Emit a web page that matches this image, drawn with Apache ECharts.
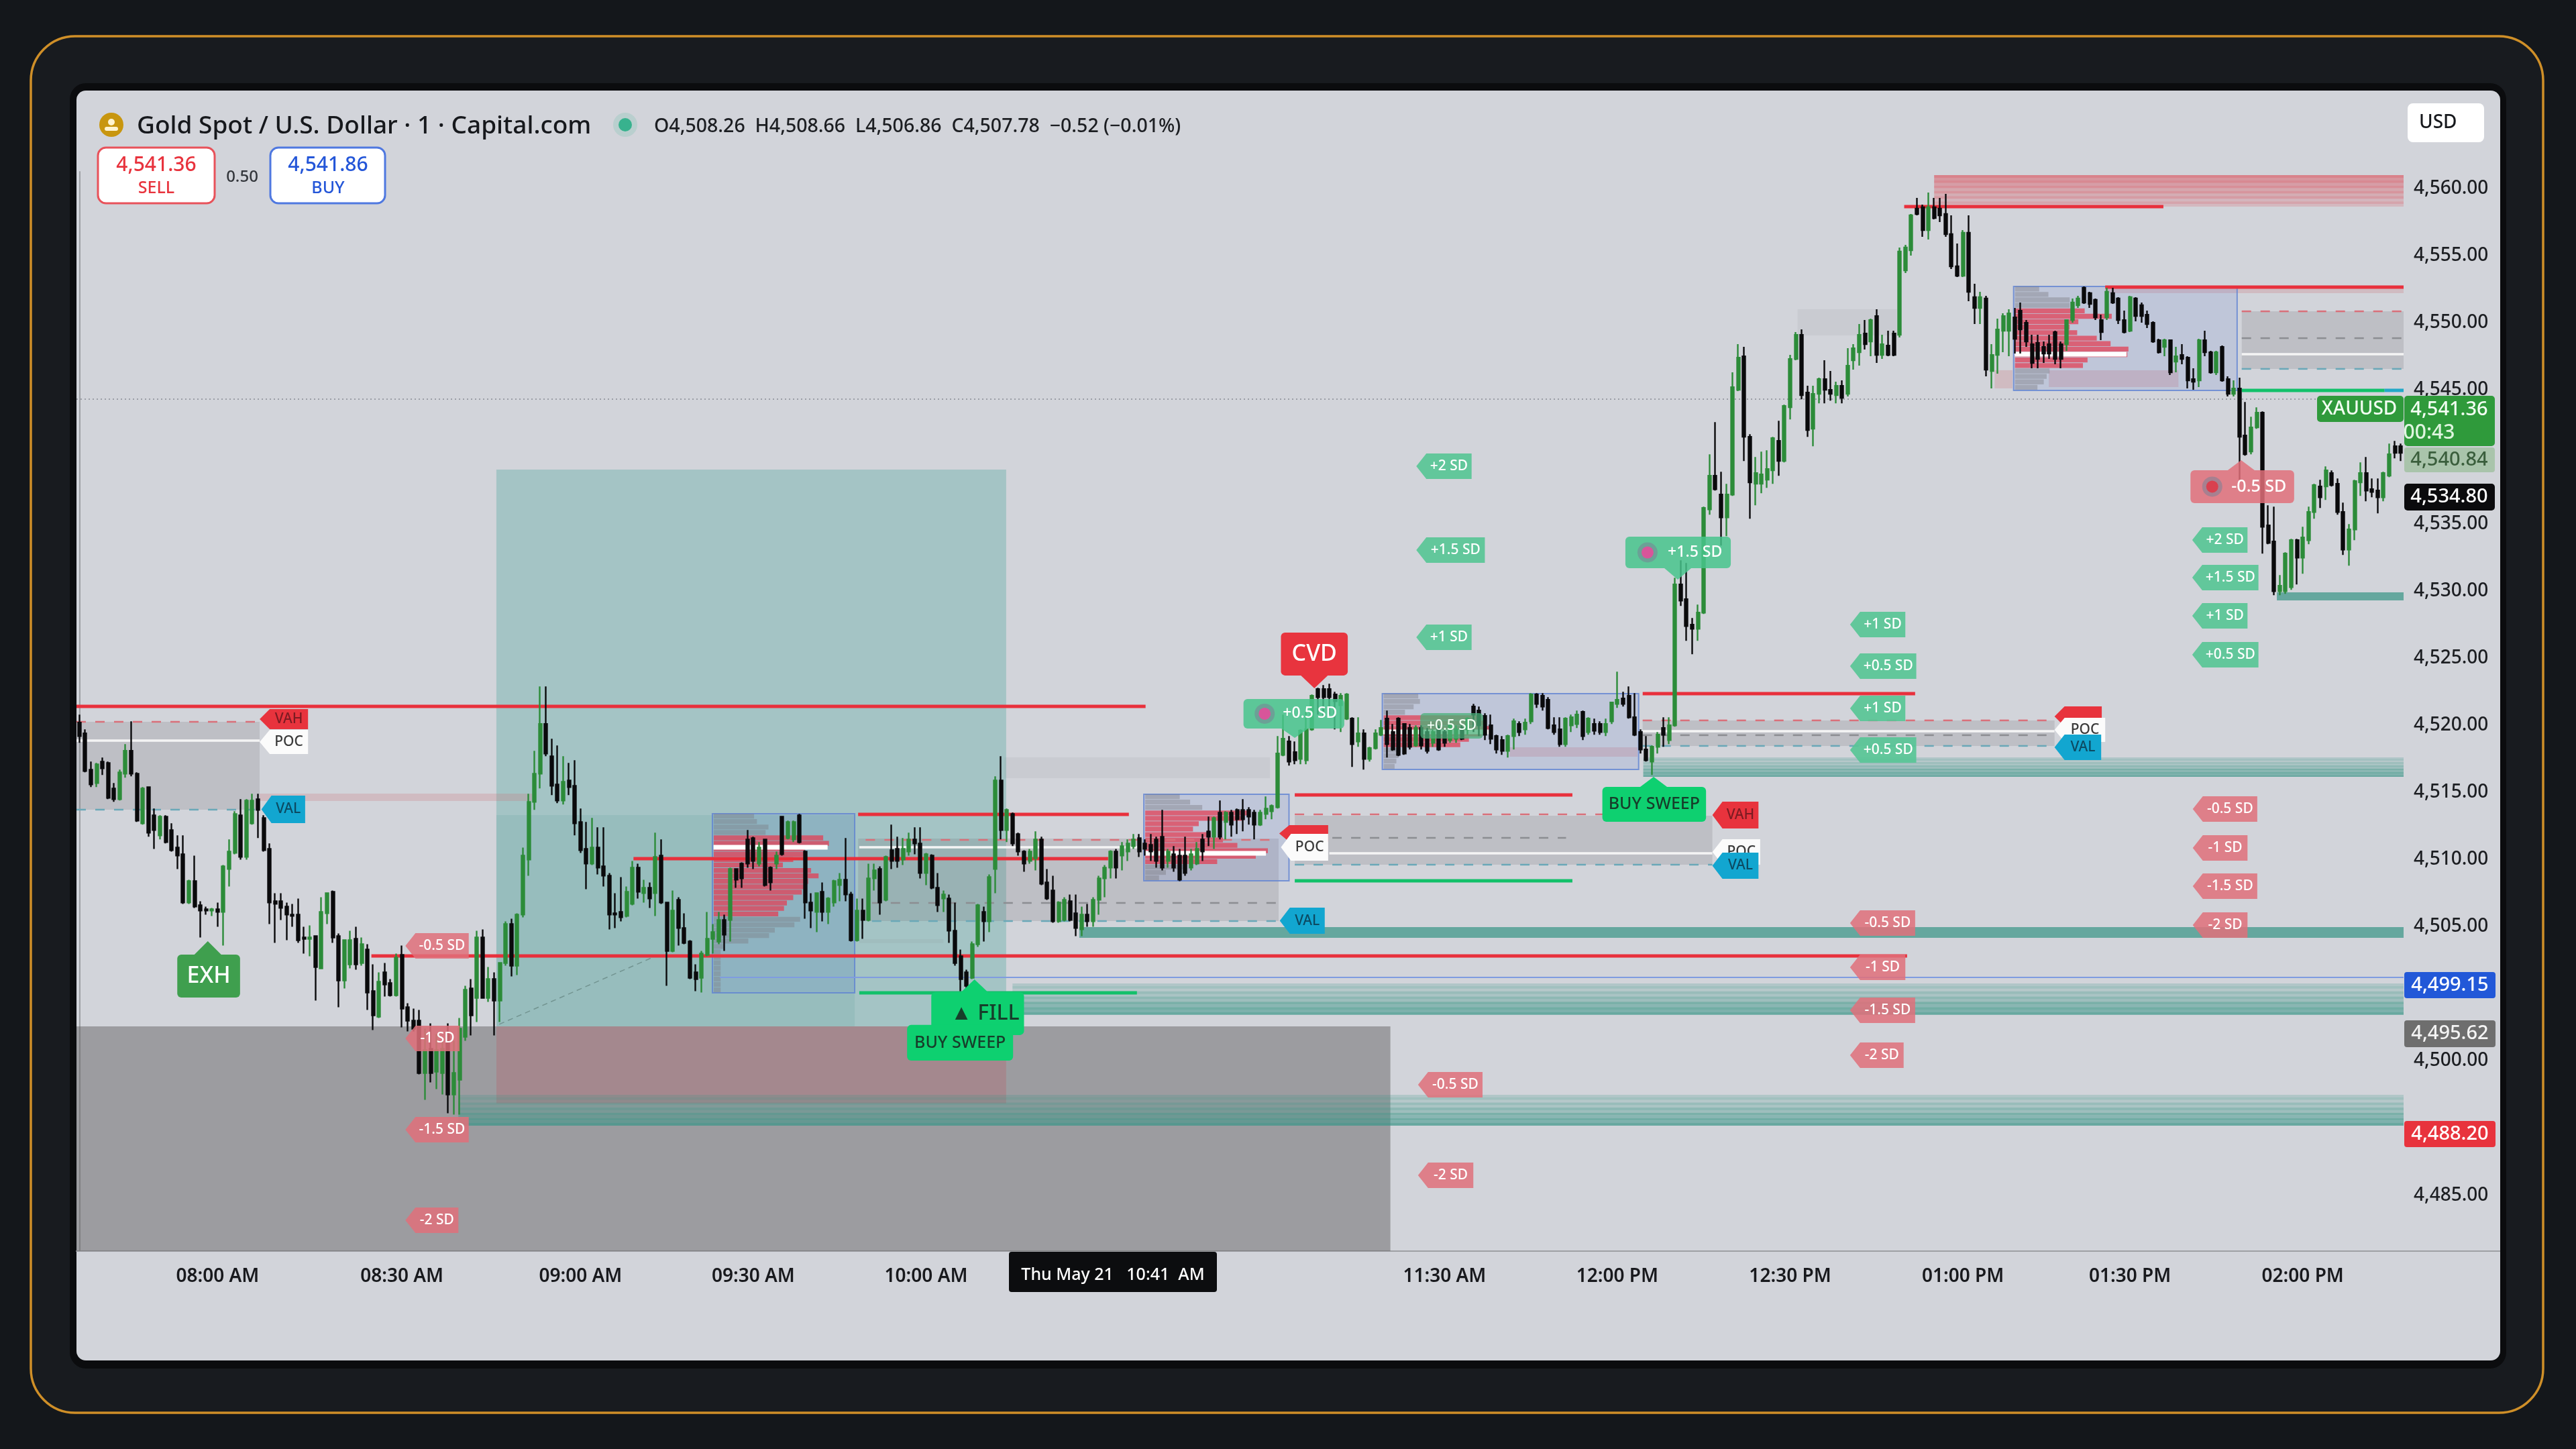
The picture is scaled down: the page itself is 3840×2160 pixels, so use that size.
<!DOCTYPE html>
<html>
<head>
<meta charset="utf-8">
<title>XAUUSD 1m</title>
<style>
html, body { margin: 0; padding: 0; background: #14171b; }
#main { width: 3840px; height: 2160px; }
</style>
<script src="https://cdn.jsdelivr.net/npm/echarts@6/dist/echarts.min.js"></script>
</head>
<body>
<div id="main"></div>
<script>
/* one minute candles: open, close, low, high */
var ohlc = [
[4520.2,4519.2,4518.7,4520.8],[4519.4,4516.6,4516.5,4519.7],[4516.7,4515.6,4515.4,4517.3],[4515.7,4517.1,4515.4,4517.2],[4517.3,4516.8,4516.3,4517.6],
[4517.2,4514.6,4514.5,4517.3],[4515.3,4514.5,4514.3,4515.7],[4514.5,4516.5,4514.4,4516.7],[4516.4,4518.1,4516.1,4518.6],[4518.1,4516.4,4516.2,4520.3],
[4516.4,4512.9,4512.8,4516.5],[4512.7,4515.3,4512.6,4515.4],[4515.4,4512,4511.7,4515.4],[4513.3,4512.2,4510.8,4513.8],[4511.8,4513.2,4511.5,4513.3],
[4513.2,4511.3,4511.2,4513.3],[4512.2,4510.7,4510.6,4512.7],[4510.9,4510.3,4509.3,4511.8],[4510.4,4506.8,4506.7,4511.8],[4506.8,4508.4,4506.7,4508.5],
[4508.4,4506.5,4506.4,4510.3],[4506.6,4506.2,4504.2,4506.9],[4506.3,4506.2,4505.9,4506.5],[4506.2,4506.3,4505.8,4506.4],[4506.3,4506.1,4505,4506.8],
[4506.1,4509.5,4503.6,4509.6],[4509.3,4510.6,4508,4511.5],[4510.5,4513.4,4510.4,4513.6],[4513.3,4510.2,4510,4514.5],[4510.2,4514.4,4510,4514.5],
[4512.7,4514.4,4512.6,4514.9],[4514.5,4513.7,4511.6,4514.9],[4513.1,4510.7,4510.6,4513.3],[4510.8,4506.8,4505.2,4511.2],[4506.9,4506.7,4503.8,4507.5],
[4506.9,4506.4,4505.5,4507.5],[4506.5,4505.9,4504,4506.8],[4505.9,4505.8,4505,4506.7],[4505.9,4504,4503.8,4507.1],[4504.2,4504.1,4503,4505],
[4504.1,4504.2,4502.8,4505.1],[4504.3,4502,4499.5,4504.3],[4501.9,4506.1,4501.9,4507.2],[4506,4507.5,4505.2,4507.5],[4507.6,4504.2,4503.8,4507.7],
[4504.3,4501,4499,4504.5],[4501,4504,4500.4,4504],[4502.2,4504,4501.9,4504.7],[4504.1,4502.2,4501.8,4505],[4502.3,4503.7,4502.1,4504.2],
[4503.3,4500.1,4498.8,4503.7],[4500.2,4498.4,4497.3,4502.2],[4498.3,4500.9,4498.2,4501.6],[4501.6,4500.7,4499.8,4502.3],[4500.8,4499.9,4499.8,4501.1],
[4499.9,4502.7,4499.8,4503],[4502.9,4498.9,4497.5,4503.6],[4499,4498,4497.2,4499.3],[4498,4497.4,4497.2,4498.9],[4498,4494.1,4494,4498.8],
[4494.1,4495.8,4492.1,4497.4],[4495.9,4494.1,4493.4,4497.8],[4494.2,4495.8,4492.9,4497],[4494.1,4495.9,4492.5,4496.5],[4497,4492.5,4491.1,4497.8],
[4492.5,4494.1,4491,4496.5],[4493.6,4497.4,4491,4498.2],[4496.8,4500.3,4496.5,4500.6],[4500.4,4498.4,4496.9,4501.1],[4499.7,4504.2,4497.9,4504.7],
[4504.2,4499.7,4499.7,4504.8],[4499.7,4501.1,4499.4,4502],[4501.1,4499.5,4496.9,4501.6],[4499.5,4502.3,4497.9,4502.3],[4502.3,4505.2,4502.1,4505.4],
[4505.2,4502.1,4501.3,4505.6],[4502.1,4505.9,4501.4,4506],[4505.9,4510.3,4505.7,4510.9],[4510,4514.3,4508.8,4514.9],[4514.3,4516.4,4513.7,4518.1],
[4516.4,4520.1,4515.3,4522.9],[4520.1,4517.9,4517.7,4522.9],[4517.7,4515.5,4514.8,4519],[4515.6,4514.4,4514.2,4518.5],[4514.4,4515.8,4514.1,4517.7],
[4515.9,4515.4,4514.8,4517.2],[4515.5,4512.7,4511.8,4517.4],[4512.8,4510.7,4510.5,4513.8],[4510.8,4509.7,4507.8,4512.8],[4509.7,4510.9,4509.6,4513.1],
[4510.9,4509.4,4508.9,4512.4],[4509.5,4508.8,4508,4512.4],[4508.8,4505.9,4504.8,4509],[4506,4505.9,4504.9,4507.5],[4506.1,4505.7,4505.4,4508.7],
[4505.8,4507.6,4505.7,4508],[4506.7,4509.4,4506.6,4509.9],[4509.4,4507.6,4507.1,4509.7],[4507.5,4507.9,4506.8,4508.5],[4507.9,4507.1,4506.4,4508.3],
[4507.5,4510.2,4505.8,4512],[4510.3,4506.8,4506.7,4511.5],[4506.8,4503.2,4500.6,4506.8],[4503.2,4506.2,4503.1,4507.7],[4507,4504.9,4503.6,4507.2],
[4504.9,4503.8,4503.7,4506],[4503.9,4501.2,4501.1,4504],[4501.6,4501.1,4500.2,4502.2],[4501.2,4503,4500.1,4503.2],[4502.9,4504.1,4502.8,4506.1],
[4504.1,4504.6,4503,4505.2],[4503.9,4505.5,4503.7,4506.1],[4505.5,4504.4,4503.2,4505.9],[4505.5,4509.3,4503.9,4509.4],[4509.3,4508.5,4507.9,4509.3],
[4509.7,4508.6,4507.9,4509.8],[4511.5,4509.7,4509.4,4512.2],[4511.6,4509.9,4509.3,4511.7],[4509.7,4510.9,4509.5,4511.3],[4511.5,4508.1,4508,4511.5],
[4509.4,4508.3,4507.7,4509.5],[4509.7,4510.3,4509.3,4510.6],[4513.2,4510.4,4510.3,4513.2],[4511.6,4512.8,4511.5,4512.9],[4511.5,4512.8,4511.3,4512.9],
[4513.3,4511.3,4511.2,4513.4],[4510.6,4506.8,4505.6,4510.7],[4506.8,4506.2,4504.9,4507.5],[4506.1,4507.5,4504.6,4507.5],[4507.6,4506.1,4505.4,4508.3],
[4506.1,4507.1,4505.2,4507.2],[4506.8,4508.4,4506.5,4508.5],[4508.1,4508.5,4506.9,4509],[4508.5,4507.4,4506.9,4511.6],[4507.4,4504,4503.9,4507.6],
[4504,4506.2,4503.9,4507.1],[4506.2,4505.5,4504.1,4507.1],[4505.5,4508.6,4505.4,4509.7],[4508.6,4509.2,4507.7,4509.7],[4509.3,4506.8,4505.9,4509.5],
[4507,4510.2,4506.9,4510.3],[4510.7,4509.9,4509.3,4512.6],[4510.8,4509.9,4509.4,4511.7],[4510,4510.8,4509.6,4511.6],[4510.6,4511.5,4510.3,4512],
[4511.5,4511.2,4510.4,4512.4],[4511.2,4509,4508.6,4512.4],[4509,4510.4,4508.1,4510.5],[4510.3,4507.9,4507.8,4510.4],[4507.9,4506.6,4506.1,4509],
[4507.1,4507.4,4506.1,4507.7],[4507.1,4504.7,4503.8,4507.4],[4504.7,4502.3,4502.1,4506.8],[4502.8,4501.1,4500.2,4503.3],[4501.6,4500.6,4500.3,4501.8],
[4501.2,4503.7,4501.1,4503.9],[4503.7,4506.6,4503.5,4506.7],[4506.1,4505.4,4503.9,4506.5],[4505.4,4508.7,4504.6,4508.9],[4509.3,4515.9,4507.5,4516.2],
[4515.9,4512.2,4511.5,4517.7],[4512.2,4513.7,4511.3,4513.8],[4513.4,4511.2,4511,4513.5],[4511.9,4510.6,4510.3,4512],[4510.6,4509.7,4509.1,4510.7],
[4509.9,4510.6,4509.7,4510.8],[4510.1,4511.5,4509.2,4512.1],[4511.5,4508.2,4508.1,4511.7],[4508.3,4507.1,4507,4509.3],[4507.7,4505.4,4505.3,4508.8],
[4505.4,4506.8,4505.3,4506.9],[4505.5,4507,4505.4,4507.2],[4506.9,4505.5,4505.4,4507.4],[4506,4504.9,4504.3,4507.4],[4504.8,4505.9,4504.3,4506.5],
[4505.9,4505.4,4505,4506.7],[4505.4,4507,4505,4507.2],[4507,4508.6,4505.9,4508.8],[4508.6,4509.4,4507.2,4509.6],[4509.4,4510.6,4508.6,4510.7],
[4510.6,4509.4,4508.6,4510.8],[4510.3,4511,4509.2,4511.3],[4510.6,4511.2,4509.9,4511.5],[4511,4511.5,4510.8,4511.9],[4511.6,4510.6,4510.2,4511.9],
[4511.2,4510.8,4510.3,4511.5],[4511.1,4510.6,4509.9,4511.9],[4511.5,4509.9,4509.4,4511.7],[4511.7,4509.4,4509.2,4513.7],[4509.9,4510.6,4509.4,4510.8],
[4510.4,4509.4,4509.1,4511],[4510.3,4508.5,4508.4,4510.8],[4510.3,4509,4508.8,4511.7],[4509.4,4510.4,4509.2,4510.8],[4509.7,4510.8,4509.6,4511.3],
[4511.5,4510.6,4509.9,4511.9],[4512.1,4511.7,4511,4513.2],[4511.7,4513.1,4510.8,4513.2],[4513.5,4511.7,4511.5,4514.4],[4512.8,4513.5,4511.5,4513.6],
[4513.5,4512.6,4511.7,4513.7],[4513.7,4513,4511.9,4513.8],[4513.7,4513,4512.1,4514.5],[4513.7,4513.2,4512.6,4513.9],[4513.5,4512.6,4511.5,4513.7],
[4512.6,4513.5,4512.5,4513.7],[4513.4,4513.8,4513,4514.7],[4513.6,4514,4513,4514.1],[4513.9,4517.9,4513.8,4519.2],[4517.8,4519,4517.7,4520.8],
[4518.8,4517.3,4517,4519.2],[4518,4517.4,4517.1,4518.8],[4517.5,4519.6,4517.1,4519.7],[4517.4,4519.7,4517.1,4521],[4519.7,4522.2,4519.6,4522.3],
[4522.7,4522.1,4520.8,4522.8],[4522.7,4522.1,4520.6,4523],[4522.7,4522.1,4520.8,4523.1],[4522.3,4521.8,4519.7,4522.5],[4521.5,4522.2,4519.5,4522.4],
[4520.5,4522.3,4520.4,4522.4],[4520.5,4518.6,4516.9,4520.6],[4518.8,4519.4,4518.4,4520.6],[4519.4,4517.5,4516.7,4519.7],[4517.5,4518.3,4517.3,4518.4],
[4518.3,4519.4,4518.2,4519.7],[4519.3,4519.8,4519.2,4520.4],[4520.5,4518.6,4517.6,4521.1],[4519.5,4518.2,4518.1,4520.1],[4520.5,4517.8,4517.7,4520.6],
[4520.1,4517.9,4517.8,4520.1],[4519.8,4518.4,4518.2,4520.1],[4518.5,4519.8,4518.4,4520],[4519.8,4518.5,4518.2,4520],[4519.5,4518.1,4517.9,4519.8],
[4518.7,4519.5,4518.4,4519.7],[4519.8,4518.2,4518.1,4520],[4519.5,4518.7,4518.4,4519.8],[4518.9,4520,4518.7,4520.1],[4519,4519.7,4518.7,4520],
[4519.8,4519,4518.9,4520],[4519.7,4520.5,4519.3,4520.6],[4521.4,4520.8,4519.5,4521.6],[4521.1,4520,4519.2,4521.4],[4520.7,4519.3,4518.9,4520.9],
[4520,4519,4518.6,4520.8],[4519.2,4518.2,4517.9,4519.3],[4518.9,4518.1,4517.8,4519.2],[4518.1,4519.2,4517.6,4519.3],[4519.2,4520.3,4518.2,4520.5],
[4520.1,4519.5,4519.2,4520.3],[4519.7,4520.2,4519.3,4520.5],[4520.3,4522.3,4520.1,4522.4],[4522.3,4521.6,4521.3,4522.4],[4522.2,4521.4,4521.1,4522.4],
[4521.9,4519.8,4519.7,4522.1],[4520,4519.5,4519.3,4520.6],[4519.7,4518.6,4518.4,4520.6],[4518.6,4520.5,4518.4,4520.6],[4520,4520.6,4519.5,4520.8],
[4520.1,4520.8,4519.8,4521.1],[4521,4519.2,4518.9,4521.1],[4519.5,4520.5,4519.3,4520.6],[4520.1,4519.6,4519.3,4520.5],[4520.1,4519.5,4519.3,4520.3],
[4519.5,4520.1,4519.2,4520.5],[4520.3,4521.7,4520.1,4521.7],[4521.6,4521.9,4521.3,4524],[4522,4521.6,4521.4,4522.5],[4522.2,4520.6,4520.5,4522.9],
[4520.6,4519.3,4519.2,4522.4],[4519.5,4518.2,4517.9,4519.7],[4518.2,4517.4,4517.3,4519.2],[4517.3,4518.4,4516.3,4518.5],[4518.4,4519.3,4517.9,4519.5],
[4519.8,4519.3,4518.4,4520.6],[4518.9,4520,4518.6,4520.6],[4520,4530.5,4519.9,4531],[4530.5,4529.3,4528.9,4532.3],[4529.4,4527.4,4526.3,4532.1],
[4527.5,4527.2,4525.3,4528],[4527.2,4528.4,4526.3,4529],[4528.4,4536.2,4528.3,4536.3],[4536.1,4538.6,4535.7,4540.2],[4538.6,4537.6,4537.5,4542.6],
[4537.2,4535.5,4533.4,4538.9],[4535.5,4537.2,4534.1,4538],[4537.2,4545.2,4537.1,4546.3],[4545,4547.4,4544.9,4548.4],[4547.5,4541.5,4539.7,4548.2],
[4541.5,4538.1,4535.4,4541.7],[4538,4538.8,4536.4,4540],[4538,4538.7,4537.3,4540.4],[4538.3,4539.1,4537.7,4540.5],[4539,4541.4,4538,4541.5],
[4541.2,4539.7,4538.6,4542.7],[4539.7,4543.8,4539.6,4543.9],[4543.7,4547.3,4542.8,4547.6],[4547.3,4549.1,4547.2,4549.3],[4549.1,4544.6,4544.3,4549.5],
[4544.8,4542,4541.5,4545.3],[4542.1,4544.7,4540.8,4545.3],[4544.7,4545.8,4544,4545.9],[4545.8,4545,4544,4547.2],[4545,4544.7,4544.2,4546.4],
[4544.6,4545.3,4544,4545.6],[4545.3,4544.4,4544,4545.7],[4544.7,4546.8,4544.5,4548.1],[4547.2,4548.1,4546.5,4548.4],[4547.8,4549.1,4546.8,4549.9],
[4549.2,4548.4,4548,4550.2],[4548.6,4550.2,4547.5,4550.3],[4550.5,4547.6,4547,4551],[4547.6,4548.4,4547.3,4549.1],[4548.3,4547.6,4547.5,4549.4],
[4549.2,4547.6,4547.5,4549.4],[4549.1,4555.3,4548.9,4555.6],[4553.9,4555.6,4553.7,4555.8],[4555.4,4558,4555,4558.1],[4558.5,4558.1,4558,4559.3],
[4558.6,4556.9,4556.4,4558.8],[4556.9,4558.6,4556.2,4559.7],[4558.6,4557.8,4557.7,4559.3],[4558.5,4558,4557.5,4559.3],[4558.1,4556.6,4556.4,4559.6],
[4556.6,4554.2,4554,4558],[4554.2,4553.5,4553.4,4555.9],[4553.5,4556.7,4553.4,4556.9],[4556.7,4552.3,4551.6,4558],[4551.9,4551.1,4549.9,4552.9],
[4551.1,4551.9,4549.9,4552.3],[4551.8,4546.5,4546,4552],[4546.4,4547.6,4545.1,4548.4],[4547.6,4549.5,4546.2,4550.3],[4549.4,4550.5,4547.8,4550.7],
[4549.4,4550.7,4547.5,4551],[4550.4,4548.8,4547.7,4551.1],[4550.9,4549.5,4547.7,4551.5],[4550,4548.6,4548.2,4550.2],[4548.4,4547,4546.6,4549.1],
[4548.5,4547.3,4546.6,4549.1],[4548.2,4547.7,4547,4548.6],[4548.4,4547.7,4547.3,4549.1],[4549.3,4547.3,4546.9,4549.4],[4548.4,4547.3,4546.6,4548.6],
[4548.4,4550.2,4547.9,4550.2],[4550.2,4551.5,4550,4551.8],[4551.3,4551.8,4551.1,4552],[4552.6,4551.5,4551.4,4552.7],[4552.2,4551.4,4551.1,4552.3],
[4551.7,4550.4,4550.2,4551.8],[4550.2,4549.3,4548.7,4550.6],[4550.4,4552.3,4550.2,4552.6],[4552.2,4551.5,4551.4,4552.6],[4551.8,4550.2,4549.9,4551.9],
[4550.2,4549.3,4549.2,4550.9],[4549.4,4551.9,4549.3,4552],[4551.8,4550.5,4550.1,4551.9],[4551.3,4550.5,4550,4551.5],[4550.6,4549.9,4549.6,4550.9],
[4550,4548.6,4548.5,4550.1],[4548.7,4547.8,4547.7,4548.8],[4548.2,4548.7,4547.5,4548.8],[4548.7,4546.3,4546.1,4548.7],[4547.1,4547.5,4546.3,4548.2],
[4547.6,4547.3,4546.9,4548.4],[4547.4,4545.7,4545.1,4547.5],[4545.8,4545.6,4545,4546.6],[4545.7,4548.7,4545.2,4548.8],[4548.7,4547.8,4547.5,4549.4],
[4547.8,4546.3,4546.2,4547.9],[4546.3,4547.8,4546.1,4547.9],[4548.2,4545.7,4545.6,4548.3],[4545.8,4544.7,4544.5,4546],[4544.7,4545.1,4544.5,4545.7],
[4545.1,4541.5,4538.3,4545.9],[4541.6,4540.2,4540.1,4544.1],[4540.4,4542.2,4540.2,4543],[4542.2,4543.3,4542.1,4543.7],[4543.3,4534.8,4532.8,4543.4],
[4534.9,4533.6,4533.5,4536.4],[4533.7,4530,4529.7,4536.3],[4530,4530.4,4529.7,4531.2],[4530,4532.8,4529.8,4532.9],[4530.3,4533.8,4530.1,4533.9],
[4533.8,4532.5,4530.5,4533.9],[4532.5,4534,4531.3,4534.8],[4533.8,4535.9,4533.5,4536.3],[4535.9,4537.9,4535.4,4538],[4537.8,4537,4536.2,4538.3],
[4537.8,4539,4536.8,4539.3],[4538.8,4537.9,4537.8,4539],[4538,4535.9,4535.7,4538.4],[4535.9,4533.1,4532.7,4536.6],[4533.1,4534.6,4531.9,4535],
[4534.6,4538.2,4533.8,4538.3],[4538.1,4538.8,4537.1,4539.6],[4538.8,4537.5,4536.7,4540],[4537.6,4537.4,4537,4538.4],[4537.5,4537,4535.8,4538.4],
[4537,4538.8,4536.7,4538.9],[4538.6,4540.2,4538.5,4541],[4540.8,4540.3,4539.9,4541.2],[4540.8,4540.3,4539.7,4541]
];

/* axes */
var priceTicks = [4560,4555,4550,4545,4535,4530,4525,4520,4515,4510,4505,4495,4485];
var priceTickLabels = ['4,560.00','4,555.00','4,550.00','4,545.00','4,535.00','4,530.00','4,525.00','4,520.00','4,515.00','4,510.00','4,505.00','4,500.00','4,485.00'];
var timeTickBars = [24,56,87,117,147,237,267,297,327,356,386];
var timeTickLabels = ['08:00 AM','08:30 AM','09:00 AM','09:30 AM','10:00 AM','11:30 AM','12:00 PM','12:30 PM','01:00 PM','01:30 PM','02:00 PM'];

/* areas: barStart, barEnd, priceTop, priceBottom */
var lowerGrey = [[-0.5,227.6,4497.58,4480.83]];
var tradeProfit = [[72.4,160.9,4539.06,4497.58]];
var tradeCore = [[72.4,134.6,4513.32,4497.58]];
var tradeLoss = [[72.4,160.9,4497.58,4491.83]];
var greyZones = [[-0.5,31.3,4520.27,4513.72],[135.2,208.2,4511.57,4505.42],[211,283.5,4513.27,4509.62],[271.4,342.9,4520.37,4518.47],[375.4,403.5,4550.85,4546.56]];
var paleRedZones = [[31.3,78.6,4514.92,4514.37],[248.3,270.5,4518.37,4517.67],[341.9,364.4,4546.46,4545.21],[332.5,335.6,4546.46,4545.11],[351.7,403.5,4552.65,4552.2]];
var paleGreyZones = [[160.6,206.7,4517.62,4516.07],[298.3,315.5,4551,4549.05],[135.4,150,4504.07,4503.77]];
var tealBands = [[65.8,403.5,4492.48,4490.18],[162,403.5,4500.77,4498.43],[271.5,403.5,4517.62,4516.17]];
var solidTealBands = [[173.6,403.5,4504.97,4504.17],[381.5,403.5,4529.91,4529.31]];
var redBands = [[322,403.5,4561,4558.65]];
var tealStripes = [0.22,0.32,0.18,0.38,0.26,0.46,0.34,0.58,0.48,0.64,0.56,0.7];
var redStripes = [0.55,0.42,0.5,0.36,0.46,0.3,0.42,0.26,0.38,0.2,0.32,0.18];

/* levels: barStart, barEnd, price */
var redLevels = [[-0.5,185.1,4521.42],[50.7,317.3,4502.82],[96.2,178.6,4510.07],[135.2,182.2,4513.37],[211,259.2,4514.82],[271.4,318.7,4522.37],[316.8,361.8,4558.65],[351.7,403.5,4552.65]];
var greenLevels = [[135.4,183.6,4500.07],[211,259.2,4508.42],[375.4,400.2,4544.96]];
var cyanLevels = [[400.2,403.5,4544.96]];
var whiteLevels = [[-0.5,31.3,4518.87],[135.4,183.7,4510.92],[217,283.5,4510.47],[271.4,342.9,4519.57],[375.4,403.5,4547.65]];
var whitePocBars = [[110.1,129.9,4510.92],[185,206,4510.47],[226.2,244.8,4519.52],[336,355.4,4547.65]];
var vahDashes = [[-0.5,31.3,4520.27],[136.5,208.2,4511.47],[211,264.6,4513.37],[271.4,342.9,4520.37],[375.4,403.5,4550.85]];
var midDashes = [[137.6,208.2,4506.77],[211,258.1,4511.62],[271.4,342.9,4519.27],[375.4,403.5,4548.85]];
var valDashes = [[-0.5,31.3,4513.72],[137.6,208.2,4505.42],[211,283.5,4509.62],[271.4,342.9,4518.47],[375.4,403.5,4546.56]];
var blueLevels = [[111.2,403.5,4501.22]];
var lastCloseDots = [[-0.5,403.5,4544.31]];
var tradeDiagonal = [[72.9,4497.73,99.3,4502.67]];

/* volume profiles: box is barStart, barEnd, priceTop, priceBottom, rows are lengths in bars */
var profileBoxes = [[109.9,134.6,4513.42,4500.07],[184.8,210,4514.87,4508.42],[226.2,270.7,4522.37,4516.72],[335.8,374.6,4552.7,4544.96]];
var profile1 = [7,7.5,9.5,9,19,20,15.8,16,13.8,12,16.9,18.2,16.4,15.6,15.3,13.8,12.7,12.2,11.2,15,14,10.6,9.6,6,1.8,1.2,1.2,1.2,1.2,1.2,1.2,1.2,1.2];
var profile2 = [6,7.8,9.9,18.2,17.1,9.3,8.3,11.4,13.5,16,21.3,19.2,12.5,7.3,3.6,2.4];
var profile3 = [6,6.3,5.2,3.7,17,17.8,18.5,17,14.8,13.3,3,2.6,2.2,1.9];
var profile4 = [4.2,5.8,9.5,9.5,12.1,16.8,11,9.5,10.8,14.2,16.6,19.7,19.5,12.6,11.8,6,5.5,5,3.9];
var profileValueAreas = [[4,19],[3,13],[4,10],[4,15]];

/* tags: barStart, barEnd, price */
var plusSdTags = [[232.1,241.7,4539.31],[232.1,244,4533.06],[232.1,241.7,4526.56],[307.4,317,4527.51],[307.4,318.9,4524.41],[307.4,317,4521.27],[307.4,318.9,4518.17],[366.8,376.4,4533.81],[366.8,378.3,4531.01],[366.8,376.4,4528.16],[366.8,378.3,4525.26]];
var plusSdText = ['+2 SD','+1.5 SD','+1 SD','+1 SD','+0.5 SD','+1 SD','+0.5 SD','+2 SD','+1.5 SD','+1 SD','+0.5 SD'];
var minusSdTags = [[56.6,67.6,4503.57],[56.6,66,4496.68],[56.6,67.6,4489.88],[56.6,65.8,4483.13],[232.4,243.6,4493.23],[232.4,242,4486.48],[307.4,318.7,4505.27],[307.4,317,4501.97],[307.4,318.7,4498.77],[307.4,316.7,4495.43],[366.9,378.1,4513.77],[366.9,376.4,4510.87],[366.9,378.1,4508.02],[366.9,376.4,4505.12]];
var minusSdText = ['-0.5 SD','-1 SD','-1.5 SD','-2 SD','-0.5 SD','-2 SD','-0.5 SD','-1 SD','-1.5 SD','-2 SD','-0.5 SD','-1 SD','-1.5 SD','-2 SD'];

/* level tags: barStart, barEnd, priceTop, priceBottom */
var vahTags = [[31.3,39.7,4521.22,4519.72],[208.3,216.8,4512.57,4511.32],[283.5,291.5,4514.32,4512.32],[342.9,351.1,4521.42,4519.92]];
var vahText = ['VAH','','VAH',''];
var pocTags = [[31.3,39.7,4519.67,4517.87],[208.6,216.8,4511.92,4509.92],[283.5,291.8,4511.52,4509.62],[342.9,351.7,4520.57,4518.77]];
var valTags = [[31.6,39.2,4514.77,4512.72],[208.4,216.2,4506.42,4504.47],[283.5,291.5,4510.52,4508.57],[342.9,351,4519.32,4517.42]];

/* callouts: barStart, barEnd, priceTop, priceBottom, tipBar, tipPrice */
var cvdCallout = [[208.6,220.2,4526.91,4523.72,214.4,4522.76]];
var exhCallout = [[17,27.9,4502.92,4499.72,22.3,4503.92]];
var sweepCallouts = [[143.7,162.1,4497.68,4495.03,null,null],[264.4,282.4,4515.42,4512.82,273.3,4516.17]];
var fillCallout = [[147.9,164,4500.12,4496.93,155.4,4501.07]];
var plusSignals = [[202.1,219.6,4521.97,4519.77,211,4519.07],[268.4,286.7,4534.06,4531.71,277.5,4530.86]];
var plusSignalText = ['+0.5 SD','+1.5 SD'];
var plainPlusBoxes = [[232.8,243.7,4520.92,4519.02]];
var minusSignals = [[366.5,384.5,4539.01,4536.56,375.3,4539.76]];

var FONT = '"Noto Sans", sans-serif';
var candleCount = ohlc.length;
var categories = ohlc.map(function (d, i) { return String(i); });

/* ---- drawing helpers for the custom series ---- */
function rectOf(api, r, style) {
    var a = api.coord([r[0], r[2]]);
    var b = api.coord([r[1], r[3]]);
    return { type: 'rect', shape: { x: a[0], y: a[1], width: b[0] - a[0], height: b[1] - a[1] }, style: style };
}

function levelOf(api, r, style) {
    var a = api.coord([r[0], r[2]]);
    var b = api.coord([r[1], r[2]]);
    return { type: 'line', shape: { x1: a[0], y1: a[1], x2: b[0], y2: b[1] }, style: style };
}

function stripesOf(api, r, color, alphas) {
    var a = api.coord([r[0], r[2]]);
    var b = api.coord([r[1], r[3]]);
    var h = (b[1] - a[1]) / alphas.length;
    return {
        type: 'group',
        children: alphas.map(function (al, i) {
            return { type: 'rect', shape: { x: a[0], y: a[1] + i * h, width: b[0] - a[0], height: h }, style: { fill: 'rgba(' + color + ',' + al + ')' } };
        })
    };
}

function profileOf(api, box, rows, area) {
    var a = api.coord([box[0], box[2]]);
    var b = api.coord([box[1], box[3]]);
    var unit = api.coord([box[0] + 1, box[2]])[0] - a[0];
    var h = (b[1] - a[1]) / rows.length;
    var kids = [{ type: 'rect', shape: { x: a[0], y: a[1], width: b[0] - a[0], height: b[1] - a[1] }, style: { fill: 'rgba(100,130,215,0.17)', stroke: 'rgba(95,130,210,0.8)', lineWidth: 2 } }];
    rows.forEach(function (len, i) {
        var inArea = i >= area[0] && i < area[1];
        kids.push({
            type: 'rect',
            shape: { x: a[0] + 2, y: a[1] + i * h, width: len * unit, height: h - 0.8 },
            style: { fill: inArea ? 'rgba(226,62,84,0.74)' : 'rgba(125,125,130,0.42)' }
        });
    });
    return { type: 'group', children: kids };
}

function leftArrow(x0, x1, yTop, yBot, fill) {
    var mid = (yTop + yBot) / 2;
    return { type: 'polygon', shape: { points: [[x0, mid], [x0 + 15, yTop], [x1, yTop], [x1, yBot], [x0 + 15, yBot]] }, style: { fill: fill } };
}

function labelOf(x, y, text, size, color, weight) {
    return { type: 'text', style: { x: x, y: y, text: text, fill: color, font: (weight || 500) + ' ' + size + 'px ' + FONT, align: 'center', verticalAlign: 'middle' } };
}

function sdTag(api, r, text, fill) {
    var a = api.coord([r[0], r[2]]);
    var b = api.coord([r[1], r[2]]);
    return { type: 'group', children: [leftArrow(a[0], b[0], a[1] - 19, a[1] + 19, fill), labelOf((a[0] + 15 + b[0]) / 2, a[1], text, 21, '#ffffff')] };
}

function levelTag(api, r, text, fill, color) {
    var a = api.coord([r[0], r[2]]);
    var b = api.coord([r[1], r[3]]);
    return { type: 'group', children: [leftArrow(a[0], b[0], a[1], b[1], fill), labelOf((a[0] + 15 + b[0]) / 2, (a[1] + b[1]) / 2, text, 21, color)] };
}

function eyeIcon(x, y, core) {
    return { type: 'group', children: [
        { type: 'circle', shape: { cx: x, cy: y, r: 15 }, style: { fill: 'rgba(120,130,150,0.55)' } },
        { type: 'circle', shape: { cx: x, cy: y, r: 9 }, style: { fill: core } }
    ] };
}

function callout(api, r, text, size, fill, color, iconCore, textShift) {
    var a = api.coord([r[0], r[2]]);
    var b = api.coord([r[1], r[3]]);
    var kids = [{ type: 'rect', shape: { x: a[0], y: a[1], width: b[0] - a[0], height: b[1] - a[1], r: 6 }, style: { fill: fill } }];
    if (r[4] != null) {
        var t = api.coord([r[4], r[5]]);
        var edge = t[1] < a[1] ? a[1] : b[1];
        kids.push({ type: 'polygon', shape: { points: [[t[0] - 20, edge], [t[0], t[1]], [t[0] + 20, edge]] }, style: { fill: fill } });
    }
    var w = b[0] - a[0];
    if (iconCore) {
        kids.push(eyeIcon(a[0] + w * 0.21, (a[1] + b[1]) / 2, iconCore));
    }
    kids.push(labelOf(a[0] + w * (textShift || 0.5), (a[1] + b[1]) / 2, text, size, color));
    return { type: 'group', children: kids };
}

/* ---- layers, painted in list order ---- */
var underLayers = [];
function addRects(list, rows, style) {
    rows.forEach(function (r) { list.push(function (api) { return rectOf(api, r, style); }); });
}
function addLevels(list, rows, style) {
    rows.forEach(function (r) { list.push(function (api) { return levelOf(api, r, style); }); });
}

addRects(underLayers, tradeProfit, { fill: 'rgba(60,160,150,0.3)' });
addRects(underLayers, tradeCore, { fill: 'rgba(60,140,135,0.12)' });
addRects(underLayers, lowerGrey, { fill: 'rgba(90,88,88,0.45)' });
addRects(underLayers, tradeLoss, { fill: 'rgba(200,60,70,0.2)' });
addRects(underLayers, greyZones, { fill: 'rgba(110,110,115,0.2)' });
addRects(underLayers, paleRedZones, { fill: 'rgba(205,110,120,0.25)' });
addRects(underLayers, paleGreyZones, { fill: 'rgba(130,135,135,0.11)' });
tealBands.forEach(function (r) { underLayers.push(function (api) { return stripesOf(api, r, '58,150,135', tealStripes); }); });
solidTealBands.forEach(function (r) { underLayers.push(function (api) { return rectOf(api, r, { fill: 'rgba(58,150,135,0.72)' }); }); });
redBands.forEach(function (r) { underLayers.push(function (api) { return stripesOf(api, r, '222,62,74', redStripes); }); });
[profile1, profile2, profile3, profile4].forEach(function (rows, i) {
    underLayers.push(function (api) { return profileOf(api, profileBoxes[i], rows, profileValueAreas[i]); });
});
addLevels(underLayers, lastCloseDots, { stroke: '#9b9ea6', lineWidth: 2, lineDash: [2, 4] });
tradeDiagonal.forEach(function (r) {
    underLayers.push(function (api) {
        var a = api.coord([r[0], r[1]]);
        var b = api.coord([r[2], r[3]]);
        return { type: 'line', shape: { x1: a[0], y1: a[1], x2: b[0], y2: b[1] }, style: { stroke: 'rgba(90,120,115,0.6)', lineWidth: 1.5, lineDash: [8, 6] } };
    });
});
addLevels(underLayers, vahDashes, { stroke: '#d9707a', lineWidth: 2.5, lineDash: [14, 14] });
addLevels(underLayers, midDashes, { stroke: '#8c8e92', lineWidth: 2.5, lineDash: [14, 14] });
addLevels(underLayers, valDashes, { stroke: '#6aa8b8', lineWidth: 2.5, lineDash: [14, 14] });
addLevels(underLayers, blueLevels, { stroke: '#7f9ce0', lineWidth: 2 });
addLevels(underLayers, whiteLevels, { stroke: '#f4f4f4', lineWidth: 3.5 });
addLevels(underLayers, whitePocBars, { stroke: '#ffffff', lineWidth: 7 });
addLevels(underLayers, redLevels, { stroke: '#e8303c', lineWidth: 5 });
addLevels(underLayers, greenLevels, { stroke: '#12c06a', lineWidth: 5 });
addLevels(underLayers, cyanLevels, { stroke: '#22a8c8', lineWidth: 5 });

var topLayers = [];
plusSdTags.forEach(function (r, i) { topLayers.push(function (api) { return sdTag(api, r, plusSdText[i], 'rgba(88,198,150,0.92)'); }); });
minusSdTags.forEach(function (r, i) { topLayers.push(function (api) { return sdTag(api, r, minusSdText[i], 'rgba(224,112,122,0.85)'); }); });
vahTags.forEach(function (r, i) { topLayers.push(function (api) { return levelTag(api, r, vahText[i], '#e8333d', '#7c1b22'); }); });
pocTags.forEach(function (r) { topLayers.push(function (api) { return levelTag(api, r, 'POC', '#fbfbfb', '#3a3a3a'); }); });
valTags.forEach(function (r) { topLayers.push(function (api) { return levelTag(api, r, 'VAL', '#12a6d0', '#0c4a62'); }); });
cvdCallout.forEach(function (r) { topLayers.push(function (api) { return callout(api, r, 'CVD', 34, '#e8343e', '#ffffff'); }); });
exhCallout.forEach(function (r) { topLayers.push(function (api) { return callout(api, r, 'EXH', 34, '#3f9f4e', '#ffffff'); }); });
fillCallout.forEach(function (r) { topLayers.push(function (api) { return callout(api, r, '▲ FILL', 32, '#0ed070', '#173d2a', null, 0.58); }); });
sweepCallouts.forEach(function (r) { topLayers.push(function (api) { return callout(api, r, 'BUY SWEEP', 25, '#0ed070', '#173d2a'); }); });
plusSignals.forEach(function (r, i) { topLayers.push(function (api) { return callout(api, r, plusSignalText[i], 23, 'rgba(72,196,140,0.85)', '#ffffff', '#d8559a', 0.66); }); });
plainPlusBoxes.forEach(function (r) { topLayers.push(function (api) { return callout(api, r, '+0.5 SD', 21, 'rgba(72,176,120,0.75)', '#f2fff5'); }); });
minusSignals.forEach(function (r) { topLayers.push(function (api) { return callout(api, r, '-0.5 SD', 25, 'rgba(226,112,122,0.85)', '#ffffff', '#d9404f', 0.66); }); });

function layerSeries(layers, z) {
    return {
        type: 'custom',
        xAxisIndex: 1,
        yAxisIndex: 0,
        z: z,
        silent: true,
        clip: true,
        encode: { x: 0, y: 1 },
        data: layers.map(function (f, i) { return [i, 4520]; }),
        renderItem: function (params, api) { return layers[params.dataIndex](api); }
    };
}

/* ---- page furniture around the plot ---- */
function box(x, y, w, h, r, fill, z, stroke, lw) {
    return { type: 'rect', z: z, shape: { x: x, y: y, width: w, height: h, r: r }, style: { fill: fill, stroke: stroke, lineWidth: lw || 0 } };
}
function words(x, y, text, size, color, align, weight) {
    return { type: 'text', z: 60, style: { x: x, y: y, text: text, fill: color, font: (weight || 400) + ' ' + size + 'px ' + FONT, align: align || 'left', verticalAlign: 'middle' } };
}

var furniture = [
    box(46, 54, 3745, 2052, 66, '#181b1f', -5, '#cf8f28', 3.5),
    box(104, 124, 3632, 1916, 24, '#0b0c0e', -4),
    box(114, 135, 3613, 1893, 14, '#d2d4da', -3),
    { type: 'line', z: 1, shape: { x1: 3583, y1: 1865, x2: 3727, y2: 1865 }, style: { stroke: '#9ea0a4', lineWidth: 2 } },
    { type: 'circle', z: 60, shape: { cx: 166, cy: 186, r: 18 }, style: { fill: '#c8960f' } },
    { type: 'circle', z: 61, shape: { cx: 166, cy: 182, r: 5 }, style: { fill: '#fff4d0' } },
    { type: 'rect', z: 61, shape: { x: 156, y: 189, width: 20, height: 6, r: 3 }, style: { fill: '#fff4d0' } },
    words(204, 188, 'Gold Spot / U.S. Dollar · 1 · Capital.com', 37, '#16181c', 'left', 500),
    { type: 'circle', z: 60, shape: { cx: 932, cy: 186, r: 18 }, style: { fill: 'rgba(56,178,142,0.16)' } },
    { type: 'circle', z: 61, shape: { cx: 932, cy: 186, r: 10 }, style: { fill: '#38b28e' } },
    words(975, 189, 'O4,508.26  H4,508.66  L4,506.86  C4,507.78  −0.52 (−0.01%)', 28.5, '#1c1e22', 'left', 500),
    box(146, 220, 174, 83, 12, '#ffffff', 60, '#e8525a', 3),
    words(233, 246, '4,541.36', 30, '#e8333d', 'center', 500),
    words(233, 281, 'SELL', 25, '#e8333d', 'center', 500),
    words(361, 264, '0.50', 24, '#33363b', 'center', 500),
    box(403, 220, 171, 83, 12, '#ffffff', 60, '#4f78e0', 3),
    words(489, 246, '4,541.86', 30, '#2456d8', 'center', 500),
    words(489, 281, 'BUY', 25, '#2456d8', 'center', 500),
    box(3589, 154, 114, 58, 8, '#ffffff', 60),
    words(3606, 183, 'USD', 28, '#16181c', 'left', 500),

    box(3454, 590, 129, 39, 5, '#2f9a3b', 60),
    words(3517, 610, 'XAUUSD', 28, '#f2fff2', 'center', 500),
    box(3584, 590, 135, 75, 5, '#2f9a3b', 60),
    words(3651, 611, '4,541.36', 29, '#f2fff2', 'center', 500),
    words(3621, 645, '00:43', 30, '#dff5df', 'center', 500),
    box(3584, 667, 135, 37, 4, '#a9c4ab', 60),
    words(3651, 686, '4,540.84', 29, '#3a5e3c', 'center', 500),
    box(3584, 721, 135, 40, 5, '#0b0b0d', 60),
    words(3651, 741, '4,534.80', 29, '#ffffff', 'center', 500),
    box(3584, 1449, 136, 39, 4, '#2258d8', 60),
    words(3652, 1469, '4,499.15', 29, '#ffffff', 'center', 500),
    box(3584, 1521, 136, 40, 4, '#6e6e6e', 60),
    words(3652, 1541, '4,495.62', 29, '#f4f4f4', 'center', 500),
    box(3584, 1671, 136, 39, 4, '#e8333d', 60),
    words(3652, 1691, '4,488.20', 29, '#ffffff', 'center', 500),

    box(1504, 1866, 310, 60, 4, '#0c0d0f', 60),
    words(1659, 1901, 'Thu May 21   10:41  AM', 25, '#ffffff', 'center', 500)
];

var chart = echarts.init(document.getElementById('main'), null, { renderer: 'canvas' });

var option = {
    animation: false,
    backgroundColor: '#14171b',
    graphic: { elements: furniture },
    grid: { left: 114, top: 256, width: 3469, height: 1609, containLabel: false },
    xAxis: [{
        type: 'category',
        data: categories,
        boundaryGap: true,
        axisLine: { lineStyle: { color: '#9ea0a4', width: 2 } },
        axisTick: { show: false },
        splitLine: { show: false },
        axisLabel: {
            margin: 24,
            fontFamily: FONT,
            fontSize: 28,
            fontWeight: 600,
            color: '#18191d',
            interval: function (i) { return timeTickBars.indexOf(i) >= 0; },
            formatter: function (v, i) { return timeTickLabels[timeTickBars.indexOf(i)]; }
        }
    }, {
        type: 'value',
        show: false,
        min: -0.5,
        max: candleCount - 0.5
    }],
    yAxis: [{
        type: 'value',
        position: 'right',
        min: 4480.83,
        max: 4561.25,
        axisLine: { show: true, lineStyle: { color: '#9ea0a4', width: 2 } },
        axisTick: { show: false },
        splitLine: { show: false },
        axisLabel: {
            margin: 15,
            fontFamily: FONT,
            fontSize: 28,
            fontWeight: 500,
            color: '#1c1e22',
            padding: [6, 0, 0, 0],
            customValues: priceTicks,
            formatter: function (v) { return priceTickLabels[priceTicks.indexOf(v)]; }
        }
    }],
    series: [
        layerSeries(underLayers, 2),
        {
            type: 'candlestick',
            xAxisIndex: 0,
            yAxisIndex: 0,
            z: 5,
            silent: true,
            barWidth: 4.5,
            data: ohlc,
            itemStyle: {
                color: '#2c8c39',
                color0: '#0a0a0c',
                borderColor: '#2c8c39',
                borderColor0: '#0a0a0c',
                borderColorDoji: '#0a0a0c',
                borderWidth: 2.4
            }
        },
        layerSeries(topLayers, 9)
    ]
};

chart.setOption(option);
</script>
</body>
</html>
